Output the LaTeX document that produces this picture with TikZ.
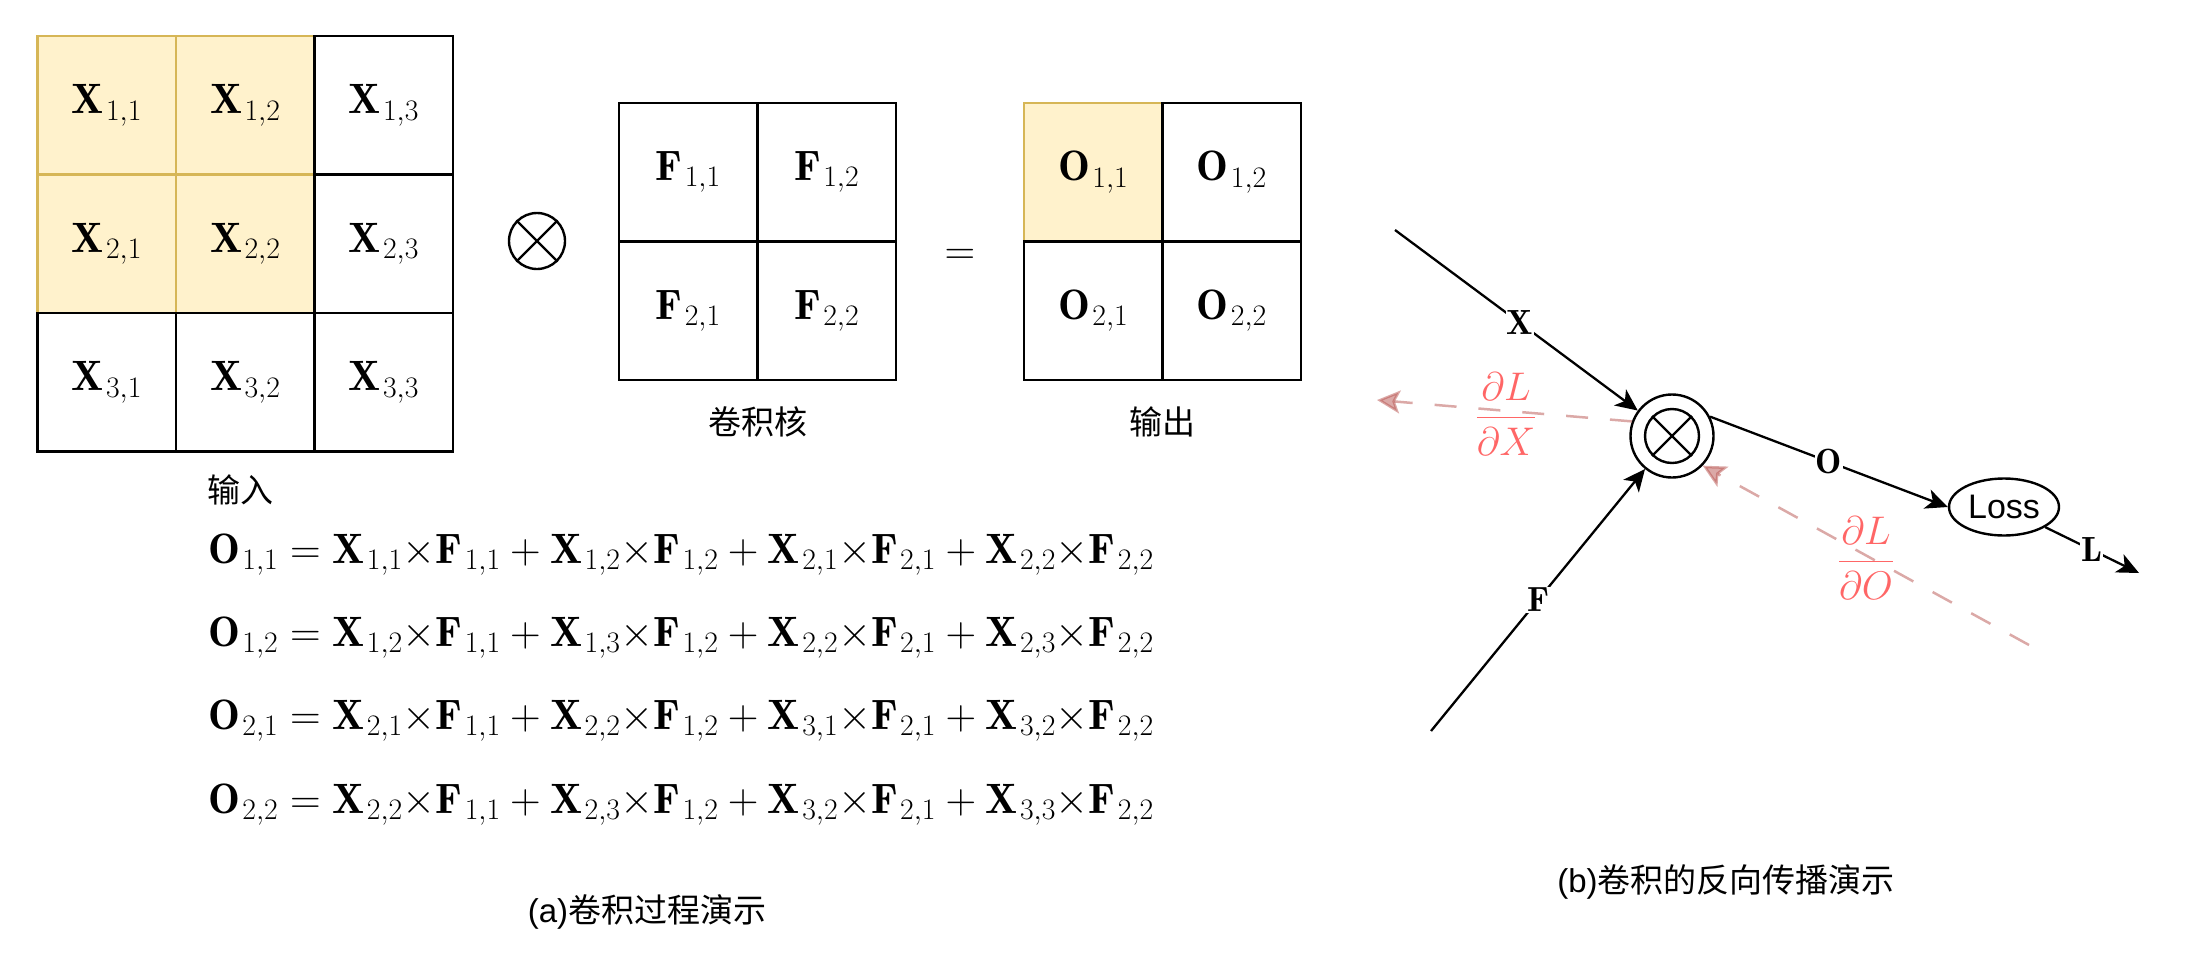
\RequirePackage{fix-cm}
\documentclass[tikz,border=0pt]{standalone}
\usepackage{fontspec}
\usepackage{amsmath}
\newfontfamily\cjk{Noto Sans CJK SC}
\newfontfamily\arial{Liberation Sans}
\usetikzlibrary{arrows.meta,calc,shapes.geometric}
\definecolor{yfill}{HTML}{FFF2CC}
\definecolor{ydraw}{HTML}{D6B656}
\definecolor{rline}{HTML}{B85450}
\definecolor{rtext}{HTML}{FF6666}
\newcommand\mX[1]{\mathbf{X}\kern2.3pt_{#1}}
\newcommand\mF[1]{\mathbf{F}\kern2.3pt_{#1}}
\newcommand\mO[1]{\mathbf{O}\kern2.3pt_{#1}}
\newcommand\tm{{\times}}
\tikzset{
  bigmath/.style={font=\fontsize{42.5}{50}\selectfont},
  cellw/.style={draw=black, fill=white, line width=2.6pt, minimum width=138.5pt, minimum height=138.5pt, inner sep=0pt, bigmath},
  celly/.style={cellw, draw=ydraw, fill=yfill},
  cjklabel/.style={font=\fontsize{33}{40}\selectfont\cjk, inner sep=0pt},
  eqn/.style={bigmath, anchor=base west, inner sep=0pt},
  blk/.style={line width=2.3pt, -{Stealth[length=22pt,width=20pt,inset=6pt]}},
  redarr/.style={rline, opacity=0.5, line width=2.5pt, dash pattern=on 22pt off 22pt, -{Stealth[length=23pt,width=23pt,inset=5pt]}},
  lbl/.style={font=\fontsize{35}{42}\selectfont, fill=white, inner sep=1pt},
  rlbl/.style={font=\fontsize{40}{48}\selectfont, text=rtext, inner sep=0pt},
  ring/.style={circle, draw, line width=2.4pt, inner sep=0pt},
}
\begin{document}
\begin{tikzpicture}[x=1pt,y=-1pt]
\useasboundingbox (0,0) rectangle (2187,956);
% ---------- (a) input grid ----------
\node[celly] (x11) at (106.75,105.25) {$\mX{1,1}$};
\node[celly] (x12) at (245.25,105.25) {$\mX{1,2}$};
\node[celly] (x21) at (106.75,243.75) {$\mX{2,1}$};
\node[celly] (x22) at (245.25,243.75) {$\mX{2,2}$};
\node[cellw] (x13) at (383.75,105.25) {$\mX{1,3}$};
\node[cellw] (x23) at (383.75,243.75) {$\mX{2,3}$};
\node[cellw] (x31) at (106.75,382.25) {$\mX{3,1}$};
\node[cellw] (x32) at (245.25,382.25) {$\mX{3,2}$};
\node[cellw] (x33) at (383.75,382.25) {$\mX{3,3}$};
\node[cjklabel] (inlbl) at (240,490) {输入};
% otimes
\node[ring, minimum size=56pt] (ot) at (537,241) {};
\draw[line width=2.4pt] (ot.45) -- (ot.225) (ot.135) -- (ot.315);
% ---------- kernel ----------
\node[cellw] (f11) at (688.25,172.25) {$\mF{1,1}$};
\node[cellw] (f12) at (826.75,172.25) {$\mF{1,2}$};
\node[cellw] (f21) at (688.25,310.75) {$\mF{2,1}$};
\node[cellw] (f22) at (826.75,310.75) {$\mF{2,2}$};
\node[cjklabel] (klbl) at (757.5,422) {卷积核};
\node[bigmath] (eq) at (960,257) {$=$};
% ---------- output ----------
\node[celly] (o11) at (1093.25,172.25) {$\mO{1,1}$};
\node[cellw] (o12) at (1231.75,172.25) {$\mO{1,2}$};
\node[cellw] (o21) at (1093.25,310.75) {$\mO{2,1}$};
\node[cellw] (o22) at (1231.75,310.75) {$\mO{2,2}$};
\node[cjklabel] (olbl) at (1162.5,422) {输出};
% ---------- equations ----------
\node[eqn] (e1) at (208,563) {$\mO{1,1}=\mX{1,1}\tm\mF{1,1}+\mX{1,2}\tm\mF{1,2}+\mX{2,1}\tm\mF{2,1}+\mX{2,2}\tm\mF{2,2}$};
\node[eqn] (e2) at (208,646) {$\mO{1,2}=\mX{1,2}\tm\mF{1,1}+\mX{1,3}\tm\mF{1,2}+\mX{2,2}\tm\mF{2,1}+\mX{2,3}\tm\mF{2,2}$};
\node[eqn] (e3) at (208,729) {$\mO{2,1}=\mX{2,1}\tm\mF{1,1}+\mX{2,2}\tm\mF{1,2}+\mX{3,1}\tm\mF{2,1}+\mX{3,2}\tm\mF{2,2}$};
\node[eqn] (e4) at (208,813) {$\mO{2,2}=\mX{2,2}\tm\mF{1,1}+\mX{2,3}\tm\mF{1,2}+\mX{3,2}\tm\mF{2,1}+\mX{3,3}\tm\mF{2,2}$};
\node[cjklabel] (capa) at (647,912) {{\arial (a)}卷积过程演示};
% ---------- (b) ----------
\coordinate (xs) at (1395,230);
\coordinate (fs) at (1431,731);
\coordinate (lend) at (2139,573);
\coordinate (gxend) at (1377,400);
\coordinate (gostart) at (2029,645);
\node[ring, minimum size=83pt] (mul) at (1672,436) {};
\node[ring, minimum size=54pt] (mulin) at (1672,436) {};
\draw[line width=2.4pt] (mulin.45) -- (mulin.225) (mulin.135) -- (mulin.315);
\node[ellipse, draw, line width=2.4pt, minimum width=110pt, minimum height=57pt, inner sep=0pt, font=\fontsize{34}{40}\selectfont\arial] (loss) at (2004,507) {Loss};
\draw[redarr] (mul.160) -- (gxend);
\draw[redarr] (gostart) -- (mul.-44);
\draw[blk] (xs) -- (mul);
\draw[blk] (fs) -- (mul);
\draw[blk] (mul.27) -- (loss.west);
\draw[blk] (loss) -- (lend);
\node[lbl] (xl) at ($(xs)!0.451!(mul.center)$) {$\mathbf{X}$};
\node[lbl] (fl) at ($(fs)!0.444!(mul.center)$) {$\mathbf{F}$};
\node[lbl] (ol) at ($(mul.27)!0.5!(loss.west)$) {$\mathbf{O}$};
\node[lbl] (ll) at ($(loss.center)!0.65!(lend)$) {$\mathbf{L}$};
\node[rlbl] (gx) at (1506,414) {$\dfrac{\partial L}{\partial X}$};
\node[rlbl] (go) at (1866,558) {$\dfrac{\partial L}{\partial O}$};
\node[cjklabel] (capb) at (1726,882) {{\arial (b)}卷积的反向传播演示};
\end{tikzpicture}
\end{document}
